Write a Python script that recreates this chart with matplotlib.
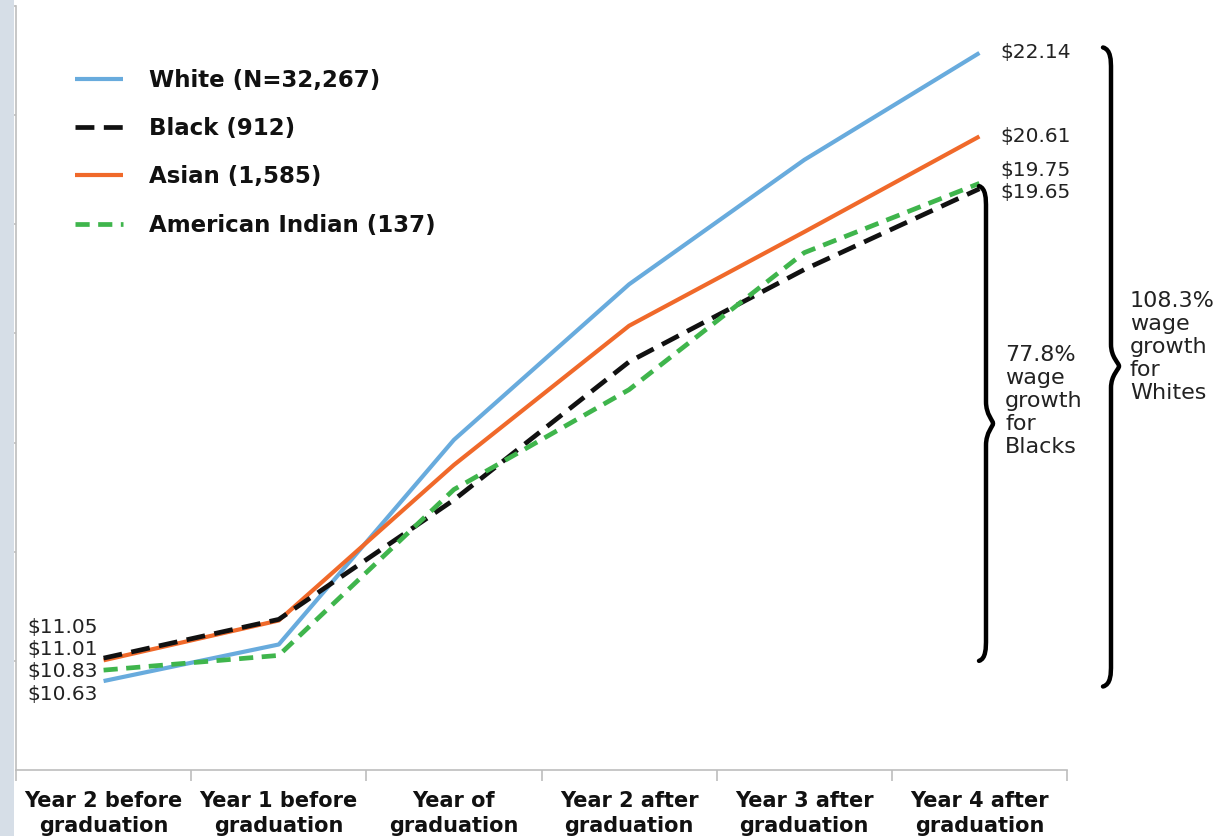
import matplotlib
matplotlib.use("Agg")
import matplotlib.pyplot as plt
from matplotlib.path import Path
from matplotlib.patches import PathPatch, Rectangle
import matplotlib.transforms as mtransforms

# ---------------- data ----------------
categories = ["Year 2 before\ngraduation", "Year 1 before\ngraduation", "Year of\ngraduation",
              "Year 2 after\ngraduation", "Year 3 after\ngraduation", "Year 4 after\ngraduation"]
white = [10.63, 11.30, 15.05, 17.90, 20.18, 22.14]
black = [11.05, 11.76, 13.95, 16.48, 18.17, 19.65]
asian = [11.01, 11.74, 14.59, 17.14, 18.86, 20.61]
amind = [10.83, 11.10, 14.14, 15.97, 18.48, 19.75]
series_labels = ["White (N=32,267)", "Black (912)", "Asian (1,585)", "American Indian (137)"]
growth_black = "77.8%\nwage\ngrowth\nfor\nBlacks"
growth_white = "108.3%\nwage\ngrowth\nfor\nWhites"

W, H = 1227, 836
fig = plt.figure(figsize=(W / 100, H / 100), dpi=100)
fig.patch.set_facecolor("white")
plt.rcParams["font.family"] = ["DejaVu Sans"]

# left light band
fig.patches.append(Rectangle((0, 0), 14 / W, 1, transform=fig.transFigure,
                             facecolor="#d6dee7", edgecolor="none", zorder=0))

ax_l, ax_r, ax_t, ax_b = 16, 1067, 6, 770
ax = fig.add_axes([ax_l / W, 1 - ax_b / H, (ax_r - ax_l) / W, (ax_b - ax_t) / H])
ax.set_xlim(-0.5, len(categories) - 0.5)
ax.set_ylim(9, 23)

x = list(range(len(categories)))
c_white, c_black, c_asian, c_amind = "#68abdd", "#111111", "#f0692a", "#3fb54c"
ax.plot(x, white, color=c_white, lw=3.0, label=series_labels[0], solid_capstyle="butt", zorder=3)
ax.plot(x, black, color=c_black, lw=3.4, dashes=(4.0, 2.0), label=series_labels[1], zorder=4)
ax.plot(x, asian, color=c_asian, lw=3.0, label=series_labels[2], solid_capstyle="butt", zorder=3)
ax.plot(x, amind, color=c_amind, lw=3.4, dashes=(3.0, 1.8), label=series_labels[3], zorder=5)

# axes styling
for s in ["top", "right"]:
    ax.spines[s].set_visible(False)
for s in ["left", "bottom"]:
    ax.spines[s].set_color("#bdbdbd")
    ax.spines[s].set_linewidth(1.2)
ax.set_yticks(range(11, 24, 2))
ax.set_yticklabels([])
ax.tick_params(axis="y", direction="out", length=4, color="#bdbdbd", width=1.2)
ax.set_xticks(x)
ax.set_xticklabels(categories, fontsize=15, fontweight="bold", color="#111111", linespacing=1.35)
ax.tick_params(axis="x", length=0, pad=15)
ax.set_xticks([i - 0.5 for i in range(len(categories) + 1)], minor=True)
ax.tick_params(axis="x", which="minor", direction="out", length=8, color="#bdbdbd", width=1.2)

# legend
leg = ax.legend(loc="upper left", bbox_to_anchor=(75 / W, 1 - 69 / H),
                bbox_transform=fig.transFigure, frameon=False, borderpad=0,
                borderaxespad=0, handlelength=2.1, handletextpad=1.15, labelspacing=1.1,
                prop={"size": 16.5, "weight": "bold"})
for t in leg.get_texts():
    t.set_color("#111111")

# start value labels (stacked, right aligned)
start_vals = sorted([white[0], black[0], asian[0], amind[0]], reverse=True)
ytop_px = 627
for i, v in enumerate(start_vals):
    fig.text(98 / W, 1 - (ytop_px + i * 22.5) / H, f"${v:.2f}", ha="right", va="center",
             fontsize=14.5, color="#222222")

# end value labels
ends = [(white[-1], 0), (asian[-1], 0), (amind[-1], 9), (black[-1], -3)]
for v, off in ends:
    ax.annotate(f"${v:.2f}", xy=(1000 / W, v), xycoords=("figure fraction", "data"),
                xytext=(0, off), textcoords="offset points", ha="left", va="center",
                fontsize=14.5, color="#222222", annotation_clip=False)

# braces
trans = mtransforms.blended_transform_factory(fig.transFigure, ax.transData)


def brace(xa_px, xb_px, xc_px, y_top, y_bot, y_mid, d):
    xa, xb, xc = xa_px / W, xb_px / W, xc_px / W
    verts = [(xa, y_top),
             (xb, y_top - 0.1 * d), (xb, y_top - 0.6 * d), (xb, y_top - d),
             (xb, y_mid + d),
             (xb, y_mid + 0.4 * d), (xc, y_mid + 0.15 * d), (xc, y_mid),
             (xc, y_mid - 0.15 * d), (xb, y_mid - 0.4 * d), (xb, y_mid - d),
             (xb, y_bot + d),
             (xb, y_bot + 0.6 * d), (xb, y_bot + 0.1 * d), (xa, y_bot)]
    codes = [Path.MOVETO, Path.CURVE4, Path.CURVE4, Path.CURVE4, Path.LINETO,
             Path.CURVE4, Path.CURVE4, Path.CURVE4, Path.CURVE4, Path.CURVE4, Path.CURVE4,
             Path.LINETO, Path.CURVE4, Path.CURVE4, Path.CURVE4]
    p = PathPatch(Path(verts, codes), transform=trans, facecolor="none", edgecolor="black",
                  lw=3.2, capstyle="round", clip_on=False, zorder=6)
    fig.add_artist(p)


brace(979, 986, 993, black[-1] + 0.05, black[0] - 0.05, 15.35, 0.4)
brace(1103, 1111, 1119, white[-1] + 0.1, white[0] - 0.1, 16.4, 0.4)

fig.text(1005 / W, 1 - 345 / H, growth_black, ha="left", va="top", fontsize=16,
         color="#222222", linespacing=1.18)
fig.text(1130 / W, 1 - 291 / H, growth_white, ha="left", va="top", fontsize=16,
         color="#222222", linespacing=1.18)

fig.savefig("out.png", dpi=100, facecolor="white")
